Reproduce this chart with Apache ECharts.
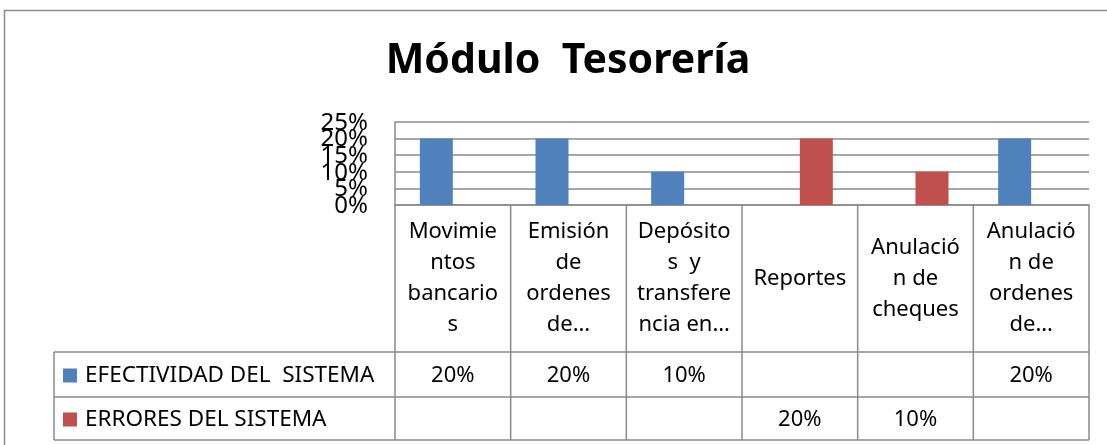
<!DOCTYPE html>
<html>
<head>
<meta charset="utf-8">
<script src="https://cdn.jsdelivr.net/npm/echarts@6/dist/echarts.min.js"></script>
<style>
  html, body { margin: 0; padding: 0; background: #fff; }
  #main { width: 1107px; height: 445px; }
</style>
</head>
<body>
<div id="main"></div>
<script>
// categorías tal como aparecen en la tabla (con los cortes de Excel)
const categories = [
  'Movimie\nntos\nbancario\ns',
  'Emisión\nde\nordenes\nde…',
  'Depósito\ns  y\ntransfere\nncia en…',
  'Reportes',
  'Anulació\nn de\ncheques',
  'Anulació\nn de\nordenes\nde…'
]
const seriesNames = ['EFECTIVIDAD DEL  SISTEMA', 'ERRORES DEL SISTEMA']
const efectividad = [0.2, 0.2, 0.1, null, null, 0.2]
const errores = [null, null, null, 0.2, 0.1, null]
const yTicks = [0, 0.05, 0.1, 0.15, 0.2, 0.25]
const seriesColors = ['#4f81bd', '#c0504d']

const FONT = '"Noto Sans", "Open Sans", sans-serif'
const pct = v => Math.round(v * 100) + '%'

// geometría del área de trazado y de la tabla
const plotLeft = 395, plotRight = 1089, plotTop = 122, plotBottom = 205
const headerBottom = 352, row1Bottom = 397, row2Bottom = 440
const legendLeft = 54
const lineColor = '#8a8a8a'

const chart = echarts.init(document.getElementById('main'))

const option = {
  animation: false,
  title: {
    text: 'Módulo  Tesorería',
    left: 563, top: 36, textAlign: 'center',
    textStyle: { fontFamily: FONT, fontSize: 41, fontWeight: 'bold', color: '#000' }
  },
  grid: {
    left: plotLeft, top: plotTop,
    width: plotRight - plotLeft, height: plotBottom - plotTop,
    containLabel: false
  },
  xAxis: {
    type: 'category',
    data: categories,
    axisLine: { show: true, lineStyle: { color: lineColor, width: 1.5 } },
    axisTick: { show: false },
    axisLabel: { show: false }
  },
  yAxis: {
    type: 'value',
    min: yTicks[0], max: yTicks[yTicks.length - 1], interval: 0.05,
    axisLine: { show: true, lineStyle: { color: lineColor, width: 1.5 } },
    axisTick: { show: false },
    // las etiquetas se solapan como en Excel: se dibujan aparte
    axisLabel: { show: false },
    splitLine: { lineStyle: { color: lineColor, width: 1.5 } }
  },
  series: [
    {
      name: seriesNames[0], type: 'bar',
      data: efectividad.map(v => v == null ? '-' : v),
      barWidth: 33, barGap: '0%',
      itemStyle: { color: seriesColors[0] }
    },
    {
      name: seriesNames[1], type: 'bar',
      data: errores.map(v => v == null ? '-' : v),
      barWidth: 33, barGap: '0%',
      itemStyle: { color: seriesColors[1] }
    }
  ]
}
chart.setOption(option)

// tabla de datos y etiquetas del eje, ubicadas con las escalas del gráfico
const colLeft = i => chart.convertToPixel({ xAxisIndex: 0 }, i) - (plotRight - plotLeft) / categories.length / 2
const colCenter = i => chart.convertToPixel({ xAxisIndex: 0 }, i)
const graphics = []

// marco exterior
graphics.push({
  type: 'rect',
  shape: { x: 4.5, y: 10.5, width: 1120, height: 450 },
  style: { fill: null, stroke: '#8a8a8a', lineWidth: 1.5 },
  silent: true
})

const hLine = (x1, x2, y) => graphics.push({
  type: 'line', shape: { x1, y1: y, x2, y2: y },
  style: { stroke: lineColor, lineWidth: 1.5 }, silent: true
})
const vLine = (x, y1, y2) => graphics.push({
  type: 'line', shape: { x1: x, y1, x2: x, y2 },
  style: { stroke: lineColor, lineWidth: 1.5 }, silent: true
})

hLine(legendLeft, plotRight, headerBottom)
hLine(legendLeft, plotRight, row1Bottom)
hLine(legendLeft, plotRight, row2Bottom)
vLine(legendLeft, headerBottom, row2Bottom)
for (let i = 0; i < categories.length; i++) vLine(colLeft(i), plotBottom, row2Bottom)
vLine(plotRight, plotBottom, row2Bottom)

// etiquetas del eje Y
yTicks.forEach(t => {
  graphics.push({
    type: 'text', x: plotLeft - 27, y: chart.convertToPixel({ yAxisIndex: 0 }, t) + 1,
    style: {
      text: pct(t), align: 'right', verticalAlign: 'middle',
      font: '24px ' + FONT, fill: '#000'
    },
    silent: true
  })
})

// encabezados de categorías
categories.forEach((c, i) => {
  graphics.push({
    type: 'text',
    x: colCenter(i),
    y: (plotBottom + headerBottom) / 2,
    style: {
      text: c, align: 'center', verticalAlign: 'middle',
      font: '22px ' + FONT, lineHeight: 31, fill: '#000'
    },
    silent: true
  })
})

// filas de valores con su leyenda
const rows = [efectividad, errores]
const rowTops = [headerBottom, row1Bottom]
const rowBottoms = [row1Bottom, row2Bottom]
rows.forEach((vals, r) => {
  const cy = (rowTops[r] + rowBottoms[r]) / 2
  graphics.push({
    type: 'rect',
    shape: { x: 63, y: cy - 6, width: 14, height: 14 },
    style: { fill: seriesColors[r] }, silent: true
  })
  graphics.push({
    type: 'text', x: 85, y: cy + 1,
    style: {
      text: seriesNames[r], align: 'left', verticalAlign: 'middle',
      font: '22.5px ' + FONT, fill: '#000'
    },
    silent: true
  })
  vals.forEach((v, i) => {
    if (v == null) return
    graphics.push({
      type: 'text', x: colCenter(i), y: cy + 1,
      style: {
        text: pct(v), align: 'center', verticalAlign: 'middle',
        font: '22px ' + FONT, fill: '#000'
      },
      silent: true
    })
  })
})

chart.setOption({ graphic: graphics })
</script>
</body>
</html>
